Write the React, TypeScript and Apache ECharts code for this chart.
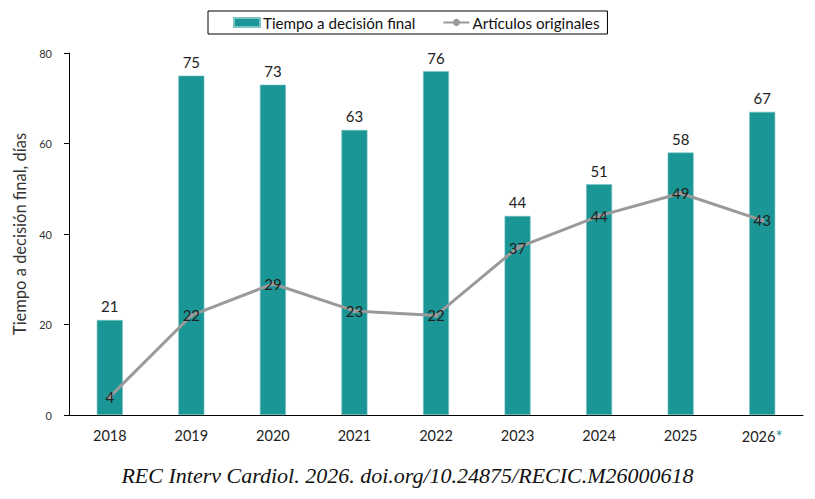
import React, { useEffect, useRef } from "react";
import * as echarts from "echarts";

const categories = ["2018", "2019", "2020", "2021", "2022", "2023", "2024", "2025", "2026*"];
const tiempoDecision = [21, 75, 73, 63, 76, 44, 51, 58, 67];
const articulosOriginales = [4, 22, 29, 23, 22, 37, 44, 49, 43];
const yTicks = { min: 0, max: 80, interval: 20 };

const FONT = "Lato, 'Open Sans', sans-serif";

export default function App() {
  const ref = useRef<HTMLDivElement>(null);
  useEffect(() => {
    if (!ref.current) return;
    const chart = echarts.init(ref.current, null, { renderer: "svg" });
    chart.setOption({
      animation: false,
      backgroundColor: "#ffffff",
      textStyle: { fontFamily: FONT },
      legend: {
        top: 11,
        left: 208,
        borderColor: "#000",
        borderWidth: 1,
        borderRadius: 0,
        padding: [4, 8, 4, 25],
        itemGap: 27,
        itemWidth: 26,
        itemHeight: 9,
        textStyle: { fontFamily: FONT, fontSize: 15.2, color: "#111", padding: [0, 0, 0, -2] },
        data: [
          { name: "Tiempo a decisión final", icon: "rect" },
          { name: "Artículos originales" },
        ],
      },
      grid: { left: 69, right: 12, top: 53, bottom: 84, containLabel: false },
      xAxis: {
        type: "category",
        data: categories,
        axisLine: { lineStyle: { color: "#000", width: 1 } },
        axisTick: { show: false },
        axisLabel: {
          interval: 0,
          margin: 13,
          fontFamily: FONT,
          fontSize: 14.5,
          color: "#222",
          formatter: (v: string) =>
            v.endsWith("*") ? `${v.slice(0, -1)}{star|*}` : v,
          rich: {
            star: { color: "#1A9696", fontSize: 17, fontFamily: FONT, verticalAlign: "top" },
          },
        },
      },
      yAxis: {
        type: "value",
        min: yTicks.min,
        max: yTicks.max,
        interval: yTicks.interval,
        name: "Tiempo a decisión final, días",
        nameLocation: "middle",
        nameGap: 41,
        nameTextStyle: { fontFamily: FONT, fontSize: 16.5, color: "#333" },
        axisLine: { show: true, lineStyle: { color: "#000", width: 1 } },
        axisTick: { show: true, length: 5, lineStyle: { color: "#000" } },
        axisLabel: { margin: 17, fontFamily: FONT, fontSize: 11, color: "#333" },
        splitLine: { show: false },
      },
      series: [
        {
          name: "Tiempo a decisión final",
          type: "bar",
          data: tiempoDecision,
          barWidth: 26,
          itemStyle: { color: "#1A9696", borderColor: "#7CC4C4", borderWidth: 0.6 },
          label: {
            show: true,
            position: "top",
            distance: 6,
            fontFamily: FONT,
            fontSize: 15,
            color: "#222",
          },
        },
        {
          name: "Artículos originales",
          type: "line",
          data: articulosOriginales,
          symbol: "circle",
          symbolSize: 5,
          showAllSymbol: true,
          lineStyle: { color: "#9A9A9A", width: 3 },
          itemStyle: { color: "#9A9A9A" },
          label: {
            show: true,
            position: "inside",
            fontFamily: FONT,
            fontSize: 15,
            color: "#222",
          },
          z: 3,
        },
      ],
      graphic: [
        {
          type: "text",
          left: "center",
          top: 464,
          style: {
            text: "REC Interv Cardiol. 2026. doi.org/10.24875/RECIC.M26000618",
            fontFamily: "'Liberation Serif', 'DejaVu Serif', serif",
            fontStyle: "italic",
            fontSize: 22,
            fill: "#111",
          },
        },
      ],
    });
    return () => chart.dispose();
  }, []);
  return <div ref={ref} style={{ width: 815, height: 499, margin: -8 }} />;
}
